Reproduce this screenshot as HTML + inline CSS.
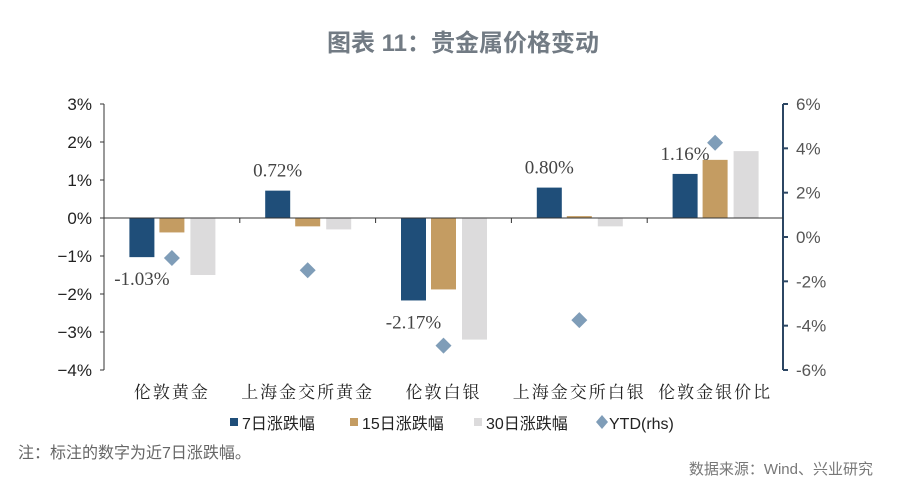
<!DOCTYPE html>
<html><head><meta charset="utf-8"><style>
body{margin:0;background:#fff;}
svg{display:block;}
</style></head><body>
<svg id="chart" width="900" height="494" xmlns="http://www.w3.org/2000/svg">
<text x="463" y="51" text-anchor="middle" font-family="'Liberation Sans','Noto Sans CJK SC',sans-serif" font-size="24" font-weight="bold" fill="#727b84">图表 11：贵金属价格变动</text>
<g id="plot"></g>
<text x="18" y="458" font-family="'Liberation Sans','Noto Sans CJK SC',sans-serif" font-size="16" fill="#666">注：标注的数字为近7日涨跌幅。</text>
<text x="873" y="474" text-anchor="end" font-family="'Liberation Sans','Noto Sans CJK SC',sans-serif" font-size="15" fill="#777">数据来源：Wind、兴业研究</text>
</svg>
<script>
const categories=["伦敦黄金","上海金交所黄金","伦敦白银","上海金交所白银","伦敦金银价比"];
const d7=[-1.03,0.72,-2.17,0.80,1.16];
const d15=[-0.38,-0.22,-1.88,0.05,1.53];
const d30=[-1.5,-0.3,-3.2,-0.22,1.76];
const ytd=[-0.95,-1.5,-4.9,-3.75,4.25];
const leftTicks=[3,2,1,0,-1,-2,-3,-4];
const rightTicks=[6,4,2,0,-2,-4,-6];
const labels7=["-1.03%","0.72%","-2.17%","0.80%","1.16%"];

const NS="http://www.w3.org/2000/svg";
const g=document.getElementById('plot');
function mk(t,a,txt){const e=document.createElementNS(NS,t);for(const k in a)e.setAttribute(k,a[k]);if(txt!=null)e.textContent=txt;g.appendChild(e);return e;}
const X0=104,X1=783,T=104,B=370;
const yL=v=>T+(3-v)/7*(B-T);
const yR=v=>T+(6-v)/12*(B-T);
const cw=(X1-X0)/categories.length;
const cx=i=>X0+cw*(i+0.5);
const sans="'Liberation Sans','Noto Sans CJK SC',sans-serif";
const serif="'Liberation Serif','Noto Serif CJK SC',serif";

let e=mk('line',{x1:X0,y1:T,x2:X0,y2:B,stroke:'#333','stroke-width':1});

leftTicks.forEach(v=>{
  mk('line',{x1:X0-4,y1:yL(v),x2:X0,y2:yL(v),stroke:'#333'});
  const t=mk('text',{x:X0-12,y:yL(v)+6,'text-anchor':'end','font-family':sans,'font-size':17,fill:'#222'},(v<0?'\u2212'+(-v):v)+'%');
  
});
e=mk('line',{x1:X1,y1:T,x2:X1,y2:B,stroke:'#2c4663','stroke-width':2});

rightTicks.forEach(v=>{
  mk('line',{x1:X1,y1:yR(v),x2:X1+5,y2:yR(v),stroke:'#2c4663','stroke-width':2});
  const t=mk('text',{x:X1+13,y:yR(v)+6,'font-family':sans,'font-size':17,fill:'#555'},v+'%');
  
});
const series=[[d7,'#1f4e79',-30,'bar-7d'],[d15,'#c49c62',0,'bar-15d'],[d30,'#dcdbdc',31,'bar-30d']];
series.forEach(([arr,col,off,nm])=>{
  arr.forEach((v,i)=>{
    const y0=yL(0),y1=yL(v);
    const r=mk('rect',{x:cx(i)+off-12.5,y:Math.min(y0,y1),width:25,height:Math.max(1,Math.abs(y1-y0)),fill:col});
    
  });
});
e=mk('line',{x1:X0,y1:yL(0),x2:X1,y2:yL(0),stroke:'#333'});

for(let i=1;i<categories.length;i++)mk('line',{x1:X0+cw*i,y1:yL(0),x2:X0+cw*i,y2:yL(0)+5,stroke:'#333'});
ytd.forEach((v,i)=>{
  const x=cx(i),y=yR(v),s=8;
  const p=mk('polygon',{points:`${x},${y-s} ${x+s},${y} ${x},${y+s} ${x-s},${y}`,fill:'#7f9db8'});
  
});
labels7.forEach((s,i)=>{
  const v=d7[i];
  const y=v<0?yL(v)+28:yL(v)-14;
  const t=mk('text',{x:cx(i)-30,y:y,'text-anchor':'middle','font-family':serif,'font-size':19,fill:'#444'},s);
  
});
categories.forEach((c,i)=>{
  const t=mk('text',{x:cx(i),y:398,'text-anchor':'middle','font-family':"'Liberation Serif','Noto Serif CJK SC',serif",'font-size':17,fill:'#222','letter-spacing':2},c);
  
});
const leg=[['rect','#1f4e79','7日涨跌幅',230],['rect','#c49c62','15日涨跌幅',350],['rect','#dcdbdc','30日涨跌幅',474],['dia','#7f9db8','YTD(rhs)',597]];
leg.forEach(([k,col,txt,x])=>{
  let m;
  if(k==='rect')m=mk('rect',{x:x,y:418,width:8,height:8,fill:col});
  else m=mk('polygon',{points:`${x+5},${415} ${x+11},${422} ${x+5},${429} ${x-1},${422}`,fill:col});
  
  const t=mk('text',{x:x+12,y:429,'font-family':sans,'font-size':16,fill:'#222'},txt);
  
});
</script>
</body></html>
